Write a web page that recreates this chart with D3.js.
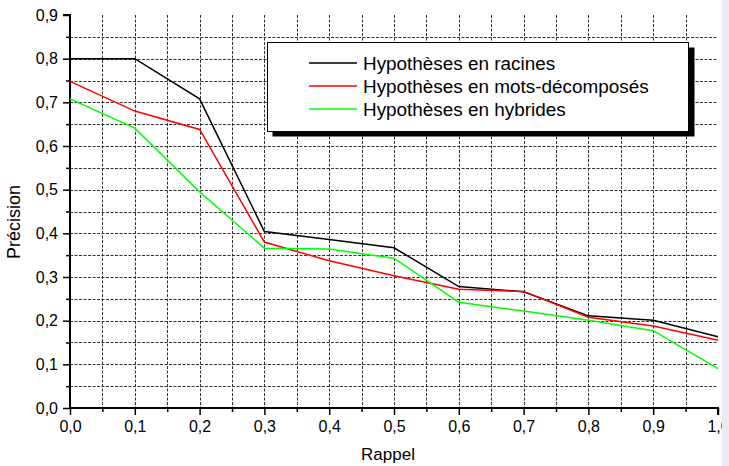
<!DOCTYPE html>
<html>
<head>
<meta charset="utf-8">
<script src="https://cdn.jsdelivr.net/npm/d3@7"></script>
<style>
  html, body { margin: 0; padding: 0; background: #fff; }
  svg { display: block; font-family: "Liberation Sans", Arial, sans-serif; }
</style>
</head>
<body>
<svg width="729" height="466"></svg>
<script>
// ---- data ----
const rappel = [0.0, 0.1, 0.2, 0.3, 0.4, 0.5, 0.6, 0.7, 0.8, 0.9, 1.0];
const racines = [0.800, 0.800, 0.708, 0.404, 0.386, 0.367, 0.278, 0.266, 0.211, 0.201, 0.163];
const motsDecomposes = [0.748, 0.680, 0.638, 0.380, 0.337, 0.303, 0.272, 0.267, 0.208, 0.188, 0.155];
const hybrides = [0.708, 0.641, 0.495, 0.366, 0.364, 0.343, 0.242, 0.222, 0.201, 0.177, 0.090];
const seriesNames = ['Hypothèses en racines', 'Hypothèses en mots-décomposés', 'Hypothèses en hybrides'];
const seriesColors = ['#000000', '#ff0000', '#00ff00'];
const xTicks = [0.0, 0.1, 0.2, 0.3, 0.4, 0.5, 0.6, 0.7, 0.8, 0.9, 1.0];
const yTicks = [0.0, 0.1, 0.2, 0.3, 0.4, 0.5, 0.6, 0.7, 0.8, 0.9];

const svg = d3.select('svg');
const plotLeft = 70, plotRight = 718, plotTop = 15, plotBottom = 408;

const x = d3.scaleLinear().domain([0, 1]).range([plotLeft, plotRight]);
const y = d3.scaleLinear().domain([0, 0.9]).range([plotBottom, plotTop]);
const fmt = d => d.toFixed(1).replace('.', ',');

// ---- grid (every 0.05) ----
const vGrid = d3.range(1, 20).map(i => i * 0.05);
const hGrid = d3.range(1, 18).map(i => i * 0.05);
const grid = svg.append('g').attr('class', 'grid')
  .attr('stroke', '#333').attr('stroke-width', 1).attr('stroke-dasharray', '3,1.5');
grid.selectAll('.v').data(vGrid).enter().append('line')
  .attr('x1', d => Math.round(x(d)) + 0.5).attr('x2', d => Math.round(x(d)) + 0.5)
  .attr('y1', plotTop).attr('y2', plotBottom);
grid.selectAll('.h').data(hGrid).enter().append('line')
  .attr('x1', plotLeft).attr('x2', plotRight)
  .attr('y1', d => Math.round(y(d)) + 0.5).attr('y2', d => Math.round(y(d)) + 0.5);

// ---- axes ----
const xMinor = d3.range(0, 21).map(i => i * 0.05).filter((d, i) => i % 2 === 1);
const yMinor = d3.range(0, 18).map(i => i * 0.05).filter((d, i) => i % 2 === 1);

const xAxis = svg.append('g').attr('transform', `translate(0,${plotBottom})`)
  .call(d3.axisBottom(x).tickValues(xTicks).tickFormat(fmt).tickSize(7).tickPadding(6));
svg.append('g').attr('transform', `translate(0,${plotBottom})`)
  .call(d3.axisBottom(x).tickValues(xMinor).tickFormat('').tickSize(4))
  .select('.domain').remove();
const yAxis = svg.append('g').attr('transform', `translate(${plotLeft},0)`)
  .call(d3.axisLeft(y).tickValues(yTicks).tickFormat(fmt).tickSize(7).tickPadding(5));
svg.append('g').attr('transform', `translate(${plotLeft},0)`)
  .call(d3.axisLeft(y).tickValues(yMinor).tickFormat('').tickSize(4))
  .select('.domain').remove();

svg.selectAll('.domain').attr('stroke', '#000').attr('stroke-width', 2);
svg.selectAll('.tick line').attr('stroke', '#000').attr('stroke-width', 1.5);
svg.selectAll('.tick text').attr('fill', '#000').style('font-size', '16px')
  .style('font-family', '"Liberation Sans", Arial, sans-serif');
xAxis.select('.domain').attr('d', `M${plotLeft},0H${plotRight}V7`);
yAxis.select('.domain').attr('d', `M-7,${plotTop}H0V${plotBottom}`);

// ---- lines ----
const allSeries = [racines, motsDecomposes, hybrides];
const line = d3.line().x((d, i) => x(rappel[i])).y(d => y(d));
svg.append('g').selectAll('path').data(allSeries).enter().append('path')
  .attr('d', line)
  .attr('fill', 'none')
  .attr('stroke', (d, i) => seriesColors[i])
  .attr('stroke-width', 1.5);

// ---- legend ----
const legend = svg.append('g');
legend.append('rect').attr('x', 272.5).attr('y', 47.5).attr('width', 422).attr('height', 89).attr('fill', '#000');
legend.append('rect').attr('x', 267.5).attr('y', 42.5).attr('width', 421).attr('height', 89)
  .attr('fill', '#fff').attr('stroke', '#000').attr('stroke-width', 1);
const items = legend.selectAll('.item').data(seriesNames).enter().append('g')
  .attr('transform', (d, i) => `translate(0,${63 + i * 23})`);
items.append('line').attr('x1', 309).attr('x2', 357).attr('y1', 0).attr('y2', 0)
  .attr('stroke', (d, i) => seriesColors[i]).attr('stroke-width', 1.5);
items.append('text').attr('x', 363).attr('y', 6.5).text(d => d)
  .style('font-size', '18.9px').attr('fill', '#000');

// ---- titles ----
svg.append('text').attr('x', 388).attr('y', 460).attr('text-anchor', 'middle')
  .style('font-size', '17px').text('Rappel');
svg.append('text').attr('transform', 'translate(20,222) rotate(-90)').attr('text-anchor', 'middle')
  .style('font-size', '18px').text('Précision');

// ---- right edge strip ----
svg.append('rect').attr('x', 722).attr('y', 0).attr('width', 7).attr('height', 466).attr('fill', '#ebebf7');
</script>
</body>
</html>
